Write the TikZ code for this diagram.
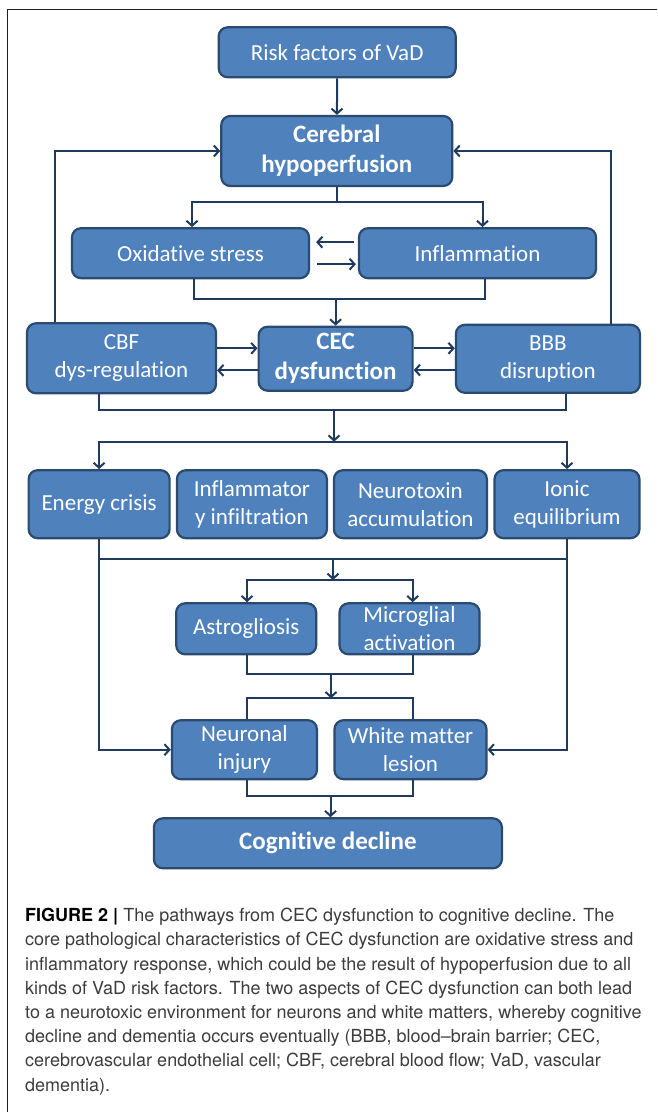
\documentclass[tikz,border=0pt]{standalone}
\usepackage{fontspec}
\setmainfont{Carlito}[Ligatures=NoCommon]
\newfontfamily\capfont{TeX Gyre Heros}
\usetikzlibrary{arrows.meta}
\definecolor{boxfill}{HTML}{4F81BD}
\definecolor{boxline}{HTML}{2A4A70}
\definecolor{linkc}{HTML}{1F3A5C}
\definecolor{capgray}{HTML}{3C3C3C}

\begin{document}
\begin{tikzpicture}[x=1pt, y=-1pt,
    box/.style={draw=boxline, line width=2.2pt, fill=boxfill, rounded corners=9pt,
        text=white, align=center, inner sep=0pt, font=\fontsize{23}{28}\selectfont},
    boldbox/.style={box, font=\fontsize{25}{30}\selectfont\bfseries},
    link/.style={draw=linkc, line width=2pt},
    arrow/.style={link, -{Straight Barb[length=5pt,width=11pt]}}]
    \useasboundingbox (0,0) rectangle (657,1112);

    % frame
    \draw[line width=1.5pt, color=black!88] (7.5,1112) |- (657,9.5);

    % upper nodes
    \path
    (337.2,52.3)  node[box, minimum width=237pt, minimum height=50pt] (risk) {Risk factors of VaD}
    (336.8,151)   node[boldbox, minimum width=231pt, minimum height=70pt] (hypo) {Cerebral\\hypoperfusion}
    (190.5,253.2) node[box, minimum width=237pt, minimum height=50pt] (oxid) {Oxidative stress}
    (477.5,253.2) node[box, minimum width=237pt, minimum height=50pt] (infl) {Inflammation}
    (121.5,358.3) node[box, minimum width=189pt, minimum height=70pt] (cbf) {CBF\\dys-regulation}
    (335.6,358.7) node[boldbox, minimum width=154pt, minimum height=64pt] (cec) {CEC\\dysfunction}
    (547.9,358.8) node[box, minimum width=184pt, minimum height=68pt] (bbb) {BBB\\disruption}
    ;

    % lower nodes
    \path
    (99.1,504.2)  node[box, minimum width=141pt, minimum height=68pt] (energy) {Energy crisis}
    (251.9,504.2) node[box, minimum width=150pt, minimum height=68pt] (inftr) {Inflammator\\y infiltration}
    (410.4,504.2) node[box, minimum width=153pt, minimum height=68pt] (toxin) {Neurotoxin\\accumulation}
    (567,504.2)   node[box, minimum width=145pt, minimum height=68pt] (ionic) {Ionic\\equilibrium}
    (246.2,628.8) node[box, minimum width=140pt, minimum height=51pt] (astro) {Astrogliosis}
    (409.5,628.8) node[box, minimum width=140pt, minimum height=51pt] (micro) {Microglial\\activation}
    (244.4,749.7) node[box, minimum width=145pt, minimum height=59pt] (neur) {Neuronal\\injury}
    (410.5,749.7) node[box, minimum width=152pt, minimum height=59pt] (white) {White matter\\lesion}
    (327.9,843.3) node[boldbox, minimum width=348pt, minimum height=50pt] (cog) {Cognitive decline}
    ;

    % junction points
    \coordinate (j1) at (336.8,201.7);
    \coordinate (m1) at (335.6,299);
    \coordinate (m2) at (334,410);
    \coordinate (d2) at (334,441.7);
    \coordinate (m3) at (333,559.3);
    \coordinate (d3) at (333,580);
    \coordinate (m4) at (331,674);
    \coordinate (d4) at (331,698.3);
    \coordinate (m5) at (330.5,796);

    % top part
    \draw[arrow] (risk) -- (hypo);
    \draw[link] (hypo.south) -- (j1);
    \draw[arrow] (j1) -| ([xshift=1.5pt]oxid.north);
    \draw[arrow] (j1) -| ([xshift=5pt]infl.north);
    \draw[arrow] ([xshift=-4pt,yshift=11pt]infl.west) -- ([xshift=6pt,yshift=11pt]oxid.east);
    \draw[arrow] ([xshift=7pt,yshift=-11pt]oxid.east) -- ([xshift=-2pt,yshift=-11pt]infl.west);
    \draw[link] ([xshift=3.5pt]oxid.south) |- (m1) -| ([xshift=7.5pt]infl.south);
    \draw[arrow] (m1) -- (cec.north);

    % feedback loops
    \draw[arrow] ([xshift=29pt]cbf.north west) |- (hypo.west);
    \draw[arrow] ([xshift=-30.4pt]bbb.north east) |- (hypo.east);

    % CEC in the middle
    \draw[arrow] ([yshift=10pt]cbf.east) -- ([yshift=10pt]cbf.east -| cec.west);
    \draw[arrow] ([yshift=-11.7pt]cec.west) -- ([yshift=-11.7pt]cec.west -| cbf.east);
    \draw[arrow] ([yshift=10.4pt]cec.east) -- ([yshift=10.4pt]cec.east -| bbb.west);
    \draw[arrow] ([yshift=-11.3pt]bbb.west) -- ([yshift=-11.3pt]bbb.west -| cec.east);

    % down to the four states
    \draw[link] ([xshift=-22.2pt]cbf.south) |- (m2) -| ([xshift=17.7pt]bbb.south);
    \draw[link] (energy.north |- d2) -- (ionic.north |- d2);
    \draw[arrow] (m2) -- (d2);
    \draw[arrow] (d2) -| (energy.north);
    \draw[arrow] (d2) -| (ionic.north);

    % glia
    \draw[link] (energy.south |- m3) -- (ionic.south |- m3);
    \draw[arrow] (m3) -- (d3);
    \draw[arrow] (d3) -| ([xshift=0.8pt]astro.north);
    \draw[arrow] (d3) -| ([xshift=3.2pt]micro.north);
    \draw[link] ([xshift=0.8pt]astro.south) |- (m4) -| ([xshift=3.2pt]micro.south);
    \draw[arrow] (m4) -- (d4);
    \draw[link] ([xshift=2.6pt]neur.north) |- (d4) -| ([xshift=2.2pt]white.north);

    % injury
    \draw[arrow] (energy.south) |- (neur.west);
    \draw[arrow] (ionic.south) |- (white.east);
    \draw[link] ([xshift=2.6pt]neur.south) |- (m5) -| ([xshift=2.2pt]white.south);
    \draw[arrow] (m5) -- (m5 |- cog.north);

    % caption
    \node[anchor=north west, inner sep=0pt, align=left, text=capgray,
        font=\capfont\fontsize{18}{24.2}\selectfont] (caption) at (25,908)
        {{\color{black}\bfseries FIGURE 2 |} The pathways from CEC dysfunction to cognitive decline. The\\
        core pathological characteristics of CEC dysfunction are oxidative stress and\\
        inflammatory response, which could be the result of hypoperfusion due to all\\
        kinds of VaD risk factors. The two aspects of CEC dysfunction can both lead\\
        to a neurotoxic environment for neurons and white matters, whereby cognitive\\
        decline and dementia occurs eventually (BBB, blood–brain barrier; CEC,\\
        cerebrovascular endothelial cell; CBF, cerebral blood flow; VaD, vascular\\
        dementia).};
\end{tikzpicture}
\end{document}
